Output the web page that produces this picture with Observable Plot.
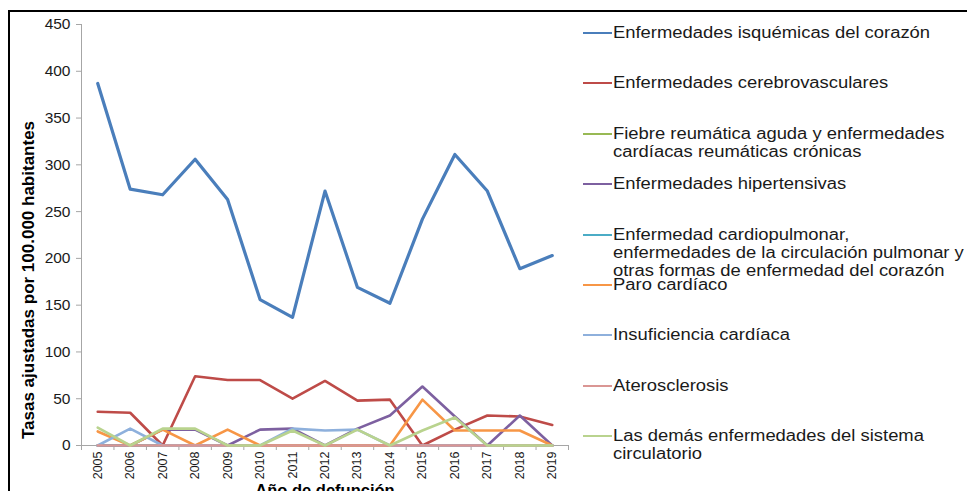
<!DOCTYPE html>
<html>
<head>
<meta charset="utf-8">
<script src="https://cdn.jsdelivr.net/npm/d3@7"></script>
<script src="https://cdn.jsdelivr.net/npm/@observablehq/plot@0.6"></script>
<style>
  html, body { margin: 0; padding: 0; background: #fff; overflow: hidden; }
  #wrap { position: relative; width: 967px; height: 491px; overflow: hidden; font-family: "Liberation Sans", Arial, sans-serif; }
  #border { position: absolute; left: 8px; top: 10px; width: 1000px; height: 600px; border-top: 2px solid #000; border-left: 2px solid #000; pointer-events: none; }
  #chart { position: absolute; left: 0; top: 0; }
  .leg { position: absolute; left: 583px; white-space: nowrap; }
  .leg .sw { position: absolute; left: 0; top: 8px; width: 29px; height: 2px; }
  .leg .tx { position: absolute; left: 30px; top: 0; font-size: 16px; line-height: 18px; color: #1a1a1a; transform: scaleX(1.15); transform-origin: left top; white-space: pre; }
</style>
</head>
<body>
<div id="wrap">
  <div id="chart"></div>
  <div id="legend"></div>
  <div id="border"></div>
</div>
<script>
const years = [2005,2006,2007,2008,2009,2010,2011,2012,2013,2014,2015,2016,2017,2018,2019];

const seriesNames = [
  "Enfermedades isquémicas del corazón",
  "Enfermedades cerebrovasculares",
  "Fiebre reumática aguda y enfermedades\ncardíacas reumáticas crónicas",
  "Enfermedades hipertensivas",
  "Enfermedad cardiopulmonar,\nenfermedades de la circulación pulmonar y\notras formas de enfermedad del corazón",
  "Paro cardíaco",
  "Insuficiencia cardíaca",
  "Aterosclerosis",
  "Las demás enfermedades del sistema\ncirculatorio"
];
const seriesColors = ["#4A7EBB","#BE4B48","#98B954","#7D60A0","#4BACC6","#F79646","#8EB0DC","#DA9694","#B9D38E"];

const isquemicas   = [387,274,268,306,263,156,137,272,169,152,242,311,272,189,203];
const cerebro      = [36,35,0,74,70,70,50,69,48,49,0,17,32,31,22];
const fiebre       = [0,0,0,0,0,0,0,0,0,0,0,0,0,0,0];
const hipertensivas= [0,0,17,17,0,17,18,0,18,32,63,31,0,32,0];
const cardiopulmonar=[0,0,0,0,0,0,0,0,0,0,0,0,0,0,0];
const paro         = [15,0,17,0,17,0,0,0,0,0,49,16,16,16,0];
const insuficiencia= [0,18,0,0,0,0,18,16,17,0,0,0,0,0,0];
const aterosclerosis=[0,0,0,0,0,0,0,0,0,0,0,0,0,0,0];
const demas        = [19,0,18,18,0,0,16,0,17,0,16,30,0,0,0];

const yTicks = [0,50,100,150,200,250,300,350,400,450];
const yLabel = "Tasas ajustadas por 100.000 habitantes";
const xLabel = "Año de defunción";

const allSeries = [isquemicas, cerebro, fiebre, hipertensivas, cardiopulmonar, paro, insuficiencia, aterosclerosis, demas];

const rows = [];
allSeries.forEach((vals, si) => {
  vals.forEach((v, i) => rows.push({serie: seriesNames[si], idx: si, year: years[i], value: v}));
});
const boundaries = years.map(y => y - 0.5).concat([years[years.length - 1] + 0.5]);

const lineMarks = seriesNames.map((name, si) =>
  Plot.line(rows.filter(r => r.idx === si), {
    x: "year", y: "value",
    stroke: seriesColors[si],
    strokeWidth: si === 0 ? 3.2 : 2.6,
    strokeLinejoin: "round"
  })
);

const chart = Plot.plot({
  width: 967,
  height: 491,
  marginLeft: 81,
  marginRight: 399,
  marginTop: 24,
  marginBottom: 46,
  style: { fontFamily: "'Liberation Sans', Arial, sans-serif", background: "transparent" },
  x: { domain: [boundaries[0], boundaries[boundaries.length - 1]] },
  y: { domain: [0, 450] },
  marks: [
    Plot.frame({ anchor: "left", stroke: "#a6a6a6" }),
    Plot.ruleY([0], { stroke: "#a6a6a6" }),
    Plot.axisY({ ticks: yTicks, tickSize: 5, tickPadding: 6, stroke: "#a6a6a6", fill: "#1a1a1a", fontSize: 15.5, label: null, tickFormat: d => String(d) }),
    Plot.axisX({ ticks: boundaries, tickSize: 5, stroke: "#a6a6a6", tickFormat: () => "", label: null }),
    Plot.axisX({ ticks: years, tickSize: 0, tickPadding: 6, tickRotate: -90, fill: "#1a1a1a", fontSize: 12.5, tickFormat: d => String(d), label: null }),
    ...lineMarks,
    Plot.text([yLabel], { frameAnchor: "left", textAnchor: "middle", dx: -53, dy: 45, rotate: -90, fontSize: 17, fontWeight: "bold", fill: "#000" }),
    Plot.text([xLabel], { frameAnchor: "bottom", dy: 50, fontSize: 16.5, fontWeight: "bold", fill: "#000" })
  ]
});
document.getElementById("chart").appendChild(chart);

const legend = document.getElementById("legend");
seriesNames.forEach((name, i) => {
  const d = document.createElement("div");
  d.className = "leg";
  d.style.top = (24 + i * 50.4) + "px";
  const sw = document.createElement("span");
  sw.className = "sw";
  sw.style.background = seriesColors[i];
  const tx = document.createElement("span");
  tx.className = "tx";
  tx.textContent = name;
  d.appendChild(sw);
  d.appendChild(tx);
  legend.appendChild(d);
});
</script>
</body>
</html>
